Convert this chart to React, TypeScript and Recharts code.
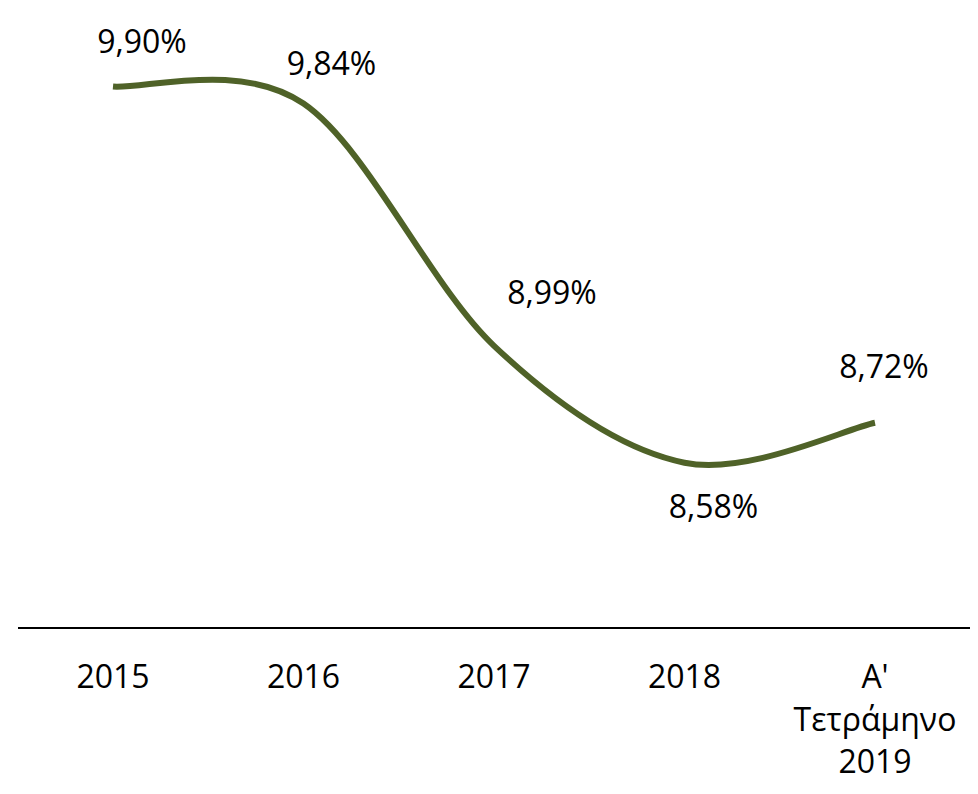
import { LabelList, Line, LineChart, XAxis, YAxis } from 'recharts';

// categories and values
const categories = ['2015', '2016', '2017', '2018', "A' Τετράμηνο 2019"];
const rates = [9.9, 9.84, 8.99, 8.58, 8.72];

const data = categories.map((name, i) => ({ name, rate: rates[i] }));

const FONT = '"Open Sans", "Noto Sans", sans-serif';
const GREEN = '#4f6228';

// manual label positions (dx, dy from the point), as placed in the original
const LABEL_OFFSETS: [number, number][] = [
  [29, -34],
  [28, -29],
  [58, -42],
  [29, 55],
  [9, -45],
];

// Excel-like smoothing: Catmull-Rom converted to cubic beziers
function excelSmooth(context: any) {
  let pts: number[][] = [];
  return {
    areaStart() {},
    areaEnd() {},
    lineStart() {
      pts = [];
    },
    point(x: number, y: number) {
      pts.push([+x, +y]);
    },
    lineEnd() {
      if (!pts.length) return;
      context.moveTo(pts[0][0], pts[0][1]);
      for (let i = 0; i < pts.length - 1; i++) {
        const p0 = pts[i - 1] || pts[i];
        const p1 = pts[i];
        const p2 = pts[i + 1];
        const p3 = pts[i + 2] || p2;
        context.bezierCurveTo(
          p1[0] + (p2[0] - p0[0]) / 6,
          p1[1] + (p2[1] - p0[1]) / 6,
          p2[0] - (p3[0] - p1[0]) / 6,
          p2[1] - (p3[1] - p1[1]) / 6,
          p2[0],
          p2[1]
        );
      }
    },
  };
}

const fmt = (v: number) => v.toFixed(2).replace('.', ',') + '%';

function RateLabel(props: any) {
  const { x, y, value, index } = props;
  const [dx, dy] = LABEL_OFFSETS[index] || [0, -20];
  return (
    <text x={x + dx} y={y + dy} textAnchor="middle" fill="#000" style={{ fontSize: 32, fontFamily: FONT }}>
      {fmt(value)}
    </text>
  );
}

function CategoryTick(props: any) {
  const { x, y, payload } = props;
  const lines = String(payload.value).split(' ');
  return (
    <text x={x} y={y + 60} textAnchor="middle" fill="#000" style={{ fontSize: 32, fontFamily: FONT }}>
      {lines.map((line, i) => (
        <tspan key={i} x={x} dy={i === 0 ? 0 : 42.5}>
          {line}
        </tspan>
      ))}
    </text>
  );
}

export default function App() {
  return (
    <div style={{ position: 'absolute', left: 0, top: 0, width: 978, height: 794, background: '#fff', fontFamily: FONT }}>
      <LineChart width={978} height={794} data={data} margin={{ top: 58, right: 8, bottom: 0, left: 18 }}>
        <XAxis
          dataKey="name"
          height={166}
          padding={{ left: 95, right: 95 }}
          axisLine={{ stroke: '#000', strokeWidth: 2 }}
          tickLine={false}
          tickSize={0}
          tickMargin={0}
          interval={0}
          tick={<CategoryTick />}
        />
        <YAxis hide domain={[8, 10]} />
        <Line
          dataKey="rate"
          type={excelSmooth as any}
          stroke={GREEN}
          strokeWidth={6}
          dot={false}
          activeDot={false}
          isAnimationActive={false}
        >
          <LabelList dataKey="rate" content={<RateLabel />} />
        </Line>
      </LineChart>
    </div>
  );
}
